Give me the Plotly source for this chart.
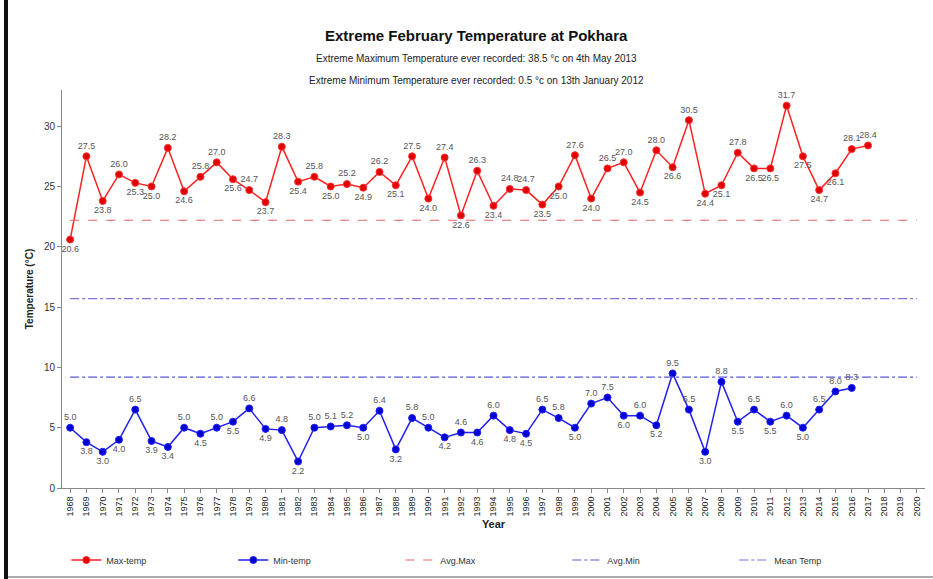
import plotly.graph_objects as go

# Years shown on the category axis
years = [str(y) for y in range(1968, 2021)]

# Extreme February maximum temperature, 1968-2017
max_temp = [20.6, 27.5, 23.8, 26.0, 25.3, 25.0, 28.2, 24.6, 25.8, 27.0,
            25.6, 24.7, 23.7, 28.3, 25.4, 25.8, 25.0, 25.2, 24.9, 26.2,
            25.1, 27.5, 24.0, 27.4, 22.6, 26.3, 23.4, 24.8, 24.7, 23.5,
            25.0, 27.6, 24.0, 26.5, 27.0, 24.5, 28.0, 26.6, 30.5, 24.4,
            25.1, 27.8, 26.5, 26.5, 31.7, 27.5, 24.7, 26.1, 28.1, 28.4]

# Extreme February minimum temperature, 1968-2016
min_temp = [5.0, 3.8, 3.0, 4.0, 6.5, 3.9, 3.4, 5.0, 4.5, 5.0,
            5.5, 6.6, 4.9, 4.8, 2.2, 5.0, 5.1, 5.2, 5.0, 6.4,
            3.2, 5.8, 5.0, 4.2, 4.6, 4.6, 6.0, 4.8, 4.5, 6.5,
            5.8, 5.0, 7.0, 7.5, 6.0, 6.0, 5.2, 9.5, 6.5, 3.0,
            8.8, 5.5, 6.5, 5.5, 6.0, 5.0, 6.5, 8.0, 8.3]

avg_max = 22.2
avg_min = 9.2
mean_temp = 15.7

FONT = "Liberation Sans, Arial, sans-serif"

PLOT_W = 933 - 62 - 8
PLOT_H = 579 - 90 - 91


def label_positions(vals):
    # peaks get labels above, troughs below
    pos = []
    for i, v in enumerate(vals):
        prev = vals[i - 1] if i > 0 else v
        nxt = vals[i + 1] if i < len(vals) - 1 else v
        if v >= (prev + nxt) / 2:
            pos.append("top center")
        else:
            pos.append("bottom center")
    return pos


fig = go.Figure()

fig.add_trace(go.Scatter(
    x=years[:len(max_temp)], y=max_temp,
    name="Max-temp",
    mode="lines+markers+text",
    line=dict(color="#FF2020", width=1.5),
    marker=dict(color="#E00000", size=7, line=dict(color="#FF3030", width=1)),
    text=[f"{v:.1f}" for v in max_temp],
    textposition=label_positions(max_temp),
    textfont=dict(size=9, color="#555555", family=FONT),
))

fig.add_trace(go.Scatter(
    x=years[:len(min_temp)], y=min_temp,
    name="Min-temp",
    mode="lines+markers+text",
    line=dict(color="#2020F0", width=1.5),
    marker=dict(color="#0000D0", size=7, line=dict(color="#2020FF", width=1)),
    text=[f"{v:.1f}" for v in min_temp],
    textposition=label_positions(min_temp),
    textfont=dict(size=9, color="#555555", family=FONT),
))

fig.add_trace(go.Scatter(
    x=years, y=[avg_max] * len(years),
    name="Avg.Max", mode="lines",
    line=dict(color="#F06060", width=1.2, dash="dash"),
))

fig.add_trace(go.Scatter(
    x=years, y=[avg_min] * len(years),
    name="Avg.Min", mode="lines",
    line=dict(color="#5858D8", width=1.2, dash="dashdot"),
))

fig.add_trace(go.Scatter(
    x=years, y=[mean_temp] * len(years),
    name="Mean Temp", mode="lines",
    line=dict(color="#8070E0", width=1.2, dash="dashdot"),
))

fig.update_xaxes(
    type="category", range=[-0.5, len(years) - 0.5],
    tickangle=-90, tickfont=dict(size=9, color="#222222", family=FONT),
    ticks="outside", ticklen=4, tickcolor="#888888",
    showline=True, linecolor="#888888", linewidth=1,
    showgrid=False, zeroline=False, automargin=False,
    title=dict(text="<b>Year</b>", font=dict(size=11, color="#222222", family=FONT), standoff=4),
)
fig.update_yaxes(
    range=[0, 33], tickvals=[0, 5, 10, 15, 20, 25, 30],
    tickfont=dict(size=10, color="#333333", family=FONT),
    ticks="outside", ticklen=4, tickcolor="#888888",
    showline=True, linecolor="#888888", linewidth=1,
    showgrid=False, zeroline=False, automargin=False,
    title=dict(text="<b>Temperature (°C)</b>", font=dict(size=10, color="#222222", family=FONT), standoff=8),
)

fig.add_annotation(text="<b>Extreme February Temperature at Pokhara</b>",
                   xref="paper", yref="paper", x=0.48, y=1.0, yshift=55, yanchor="middle",
                   showarrow=False, font=dict(size=15, color="#111111", family=FONT))
fig.add_annotation(text="Extreme Maximum Temperature ever recorded: 38.5 °c on 4th May 2013",
                   xref="paper", yref="paper", x=0.48, y=1.0, yshift=32, yanchor="middle",
                   showarrow=False, font=dict(size=10, color="#222222", family=FONT))
fig.add_annotation(text="Extreme Minimum Temperature ever recorded: 0.5 °c on 13th January 2012",
                   xref="paper", yref="paper", x=0.48, y=1.0, yshift=10, yanchor="middle",
                   showarrow=False, font=dict(size=10, color="#222222", family=FONT))

# dark frame on the left and light line at the bottom like the original screenshot
fig.add_shape(type="rect", xref="paper", yref="paper",
              x0=-58 / PLOT_W, x1=-54 / PLOT_W, y0=-91 / PLOT_H, y1=1 + 90 / PLOT_H,
              fillcolor="#111111", line=dict(width=0))
fig.add_shape(type="line", xref="paper", yref="paper",
              x0=-54 / PLOT_W, x1=1 + 8 / PLOT_W, y0=-89 / PLOT_H, y1=-89 / PLOT_H,
              line=dict(color="#AAAAAA", width=2))

fig.update_layout(
    width=933, height=579,
    margin=dict(l=62, r=8, t=90, b=91, autoexpand=False),
    paper_bgcolor="white", plot_bgcolor="white",
    font=dict(family=FONT),
    showlegend=True,
    legend=dict(orientation="h", x=0.005, y=-72 / PLOT_H, xanchor="left", yanchor="middle",
                entrywidth=122, entrywidthmode="pixels", bgcolor="rgba(0,0,0,0)",
                font=dict(size=9, color="#333333", family=FONT)),
)

# drop the default page margin so the figure sits at the window's corner
fig.write_html("out.html", config={"displayModeBar": False},
               post_script="document.body.style.margin='0';")
